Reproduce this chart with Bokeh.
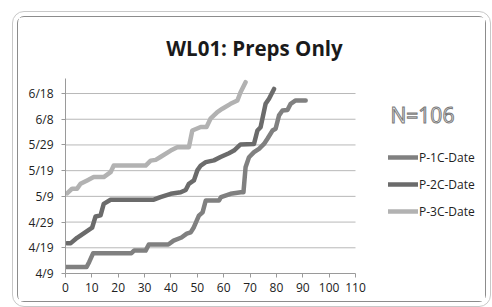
from bokeh.plotting import figure
from bokeh.models import FixedTicker, Label, Legend, LegendItem, Range1d
from bokeh.embed import file_html
from bokeh.resources import INLINE

# Day offsets from 4/9
y_ticks = [0, 10, 20, 30, 40, 50, 60, 70]
y_tick_labels = ["4/9", "4/19", "4/29", "5/9", "5/19", "5/29", "6/8", "6/18"]
x_ticks = [0, 10, 20, 30, 40, 50, 60, 70, 80, 90, 100, 110]

p1_x = [0, 8, 9, 10.5, 25, 26, 30.4, 31.6, 39, 41, 44, 46, 47.5, 48.7, 50.6, 52, 53.2, 58.2, 59, 62.6,
        66.5, 67.5, 68.3, 69.6, 71.5, 73.4, 75.3, 76.6, 78.5, 79.7, 81, 82.3, 84.2, 85.4, 87.3, 91.1]
p1_y = [2.5, 2.5, 4.5, 7.9, 7.9, 8.9, 8.9, 11.3, 11.3, 12.8, 14, 15.5, 16, 18, 22.5, 23.8, 28.4, 28.4, 29.7, 31,
        31.6, 31.6, 41.3, 45.2, 47.2, 48.5, 50.4, 52.4, 55.6, 56.3, 61.5, 63.4, 63.6, 66, 67.3, 67.3]

p2_x = [0.6, 2, 4.4, 7.6, 10.1, 11.4, 13.3, 14.5, 17.1, 33.5, 36, 39.9, 43.7, 45.6, 46.8, 48.7, 50, 51.3, 53.2,
        56.3, 58.8, 62, 63.9, 66.4, 71.5, 72.8, 74, 75.9, 77.2, 79.1]
p2_y = [11.8, 11.8, 13.9, 16.1, 17.8, 22.2, 22.6, 27.1, 28.7, 28.7, 29.7, 31, 31.6, 32.5, 34.9, 36.2, 40.1, 42,
        43.3, 44, 45.3, 46.8, 47.8, 50.2, 50.4, 55.6, 56.9, 66, 68, 71.8]

p3_x = [0.6, 2.5, 4.4, 5.7, 8.2, 10.7, 14.5, 17.1, 18.3, 30.4, 32.3, 34.2, 36, 39.9, 42.4, 46.8, 48.1, 51.3,
        53.5, 55, 57.6, 59.5, 62.6, 65.2, 66.4, 68.3]
p3_y = [31.2, 33, 33, 34.9, 36.2, 37.5, 37.5, 39.4, 42, 42, 43.9, 44.2, 45.3, 47.8, 49.1, 49.1, 55.6, 57, 57,
        60.2, 62.8, 64.1, 66, 67.3, 70.5, 74.4]

series_names = ["P-1C-Date", "P-2C-Date", "P-3C-Date"]
series_colors = ["#808080", "#6b6b6b", "#b2b2b2"]
chart_title = "WL01: Preps Only"
n_text = "N=106"

FONT = "Open Sans"

X_MAX = 110
Y_MAX = 76
W, H = 469, 286
ML, MB = 47, 30
frame_w = W - ML
frame_h = H - MB
x_end = X_MAX * frame_w / 290.0
y_end = frame_h / 2.571

p = figure(width=W, height=H, output_backend="svg", toolbar_location=None,
           x_range=Range1d(0, x_end), y_range=Range1d(0, y_end),
           min_border_left=ML, min_border_right=0, min_border_top=0, min_border_bottom=MB)
p.styles = {"margin-left": "17px", "margin-top": "16px",
            "border": "1px solid #8c8c8c", "border-radius": "7px",
            "outline": "1px solid #c8c8c8", "outline-offset": "4px"}
p.outline_line_color = None
p.background_fill_color = "white"
p.border_fill_color = "white"

p.xgrid.grid_line_color = None
p.ygrid.grid_line_color = None
grid_vals = y_ticks[1:]
p.segment(x0=[0] * len(grid_vals), y0=grid_vals, x1=[X_MAX] * len(grid_vals), y1=grid_vals,
          line_color="#b8b8b8", line_width=1)

p.yaxis.ticker = FixedTicker(ticks=y_ticks)
p.yaxis.major_label_overrides = {t: l for t, l in zip(y_ticks, y_tick_labels)}
p.yaxis.bounds = (0, Y_MAX)
p.xaxis.ticker = FixedTicker(ticks=x_ticks)
p.xaxis.bounds = (0, X_MAX)
for ax in (p.xaxis, p.yaxis):
    ax.axis_line_color = "#9a9a9a"
    ax.major_tick_line_color = "#9a9a9a"
    ax.major_tick_in = 0
    ax.major_tick_out = 4
    ax.minor_tick_line_color = None
    ax.major_label_text_font = FONT
    ax.major_label_text_font_size = "12px"
    ax.major_label_text_color = "#222222"
p.yaxis.major_label_standoff = 8
p.xaxis.major_label_standoff = 5

renderers = []
for xs, ys, c in zip([p1_x, p2_x, p3_x], [p1_y, p2_y, p3_y], series_colors):
    r = p.line(xs, ys, line_color=c, line_width=4.5, line_join="round", line_cap="round")
    renderers.append(r)

legend = Legend(items=[LegendItem(label=n, renderers=[r]) for n, r in zip(series_names, renderers)],
                location=(323, 52))
legend.border_line_color = None
legend.background_fill_alpha = 0
legend.padding = 0
legend.margin = 0
legend.spacing = 7
legend.glyph_width = 30
legend.glyph_height = 20
legend.label_height = 20
legend.label_standoff = 1
legend.label_text_font = FONT
legend.label_text_font_size = "12px"
legend.label_text_color = "#222222"
p.add_layout(legend, "center")

title = Label(x=71.7, y=87.9, text=chart_title, text_font=FONT, text_font_style="bold",
              text_font_size="20.5px", text_align="center", text_baseline="middle", text_color="#1a1a1a")
p.add_layout(title)

nlab = Label(x=135.4, y=61.8, text=n_text, text_font=FONT, text_font_size="21px",
             text_align="center", text_baseline="middle", text_color="#f2f2f2",
             text_outline_color="#7a7a7a")
p.add_layout(nlab)

open("out.html", "w").write(file_html(p, INLINE))
